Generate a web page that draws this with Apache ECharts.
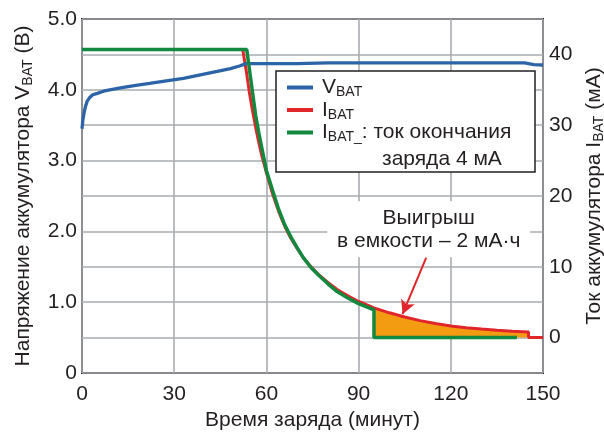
<!DOCTYPE html>
<html><head><meta charset="utf-8">
<script src="https://cdn.jsdelivr.net/npm/echarts@6/dist/echarts.min.js"></script>
<style>html,body{margin:0;padding:0;background:#fff}#c{width:604px;height:432px}</style>
</head><body><div id="c"></div>
<script>
// ---- data ----
const xTickLabels = ['0', '30', '60', '90', '120', '150'];
const leftTickLabels = ['0', '1.0', '2.0', '3.0', '4.0', '5.0'];
const rightTickLabels = ['0', '10', '20', '30', '40'];

// V_BAT (V) vs time (min)
const vTime = [0, 0.3, 0.7, 1.1, 1.7, 2.5, 3.5, 5, 7, 9, 13, 17, 22, 28, 33, 38.5, 44, 48.3, 51.5, 53.3, 60, 70, 80, 144, 147, 150];
const vBat  = [3.45, 3.58, 3.68, 3.76, 3.84, 3.89, 3.93, 3.95, 3.98, 4.00, 4.03, 4.06, 4.09, 4.13, 4.16, 4.21, 4.26, 4.30, 4.34, 4.37, 4.37, 4.37, 4.38, 4.38, 4.355, 4.35];

// I_BAT (mA)
const iTime = [0, 52.3, 53.5, 54.5, 55.5, 56.5, 57.5, 58.5, 60, 62, 64, 66, 68, 70, 72, 74.5, 77, 80, 83, 86.5, 90, 95, 100, 105, 110, 115, 120, 125, 130, 135, 140, 145.3, 145.3, 150];
const iBat  = [40.7, 40.7, 37.5, 34.5, 32, 29.7, 27.6, 25.7, 23.3, 20.3, 17.8, 15.7, 14, 12.6, 11.3, 10, 8.9, 7.8, 6.8, 5.9, 5.1, 4.2, 3.5, 2.9, 2.4, 2.0, 1.65, 1.4, 1.2, 1.03, 0.9, 0.78, 0, 0];

// I_BAT with 4 mA termination (mA)
const tTime = [0, 53.6, 54.5, 55.5, 56.5, 57.5, 58.5, 60, 62, 64, 66, 68, 70, 72, 74.5, 77, 80, 83, 86.5, 90, 95, 95, 141.5];
const iTerm = [40.7, 40.7, 37.8, 34.6, 31.4, 29, 26.8, 23.6, 20.8, 18.1, 15.9, 14.2, 12.7, 11.3, 9.9, 8.8, 7.6, 6.5, 5.6, 4.8, 3.9, 0, 0];

// gained capacity region: I_BAT between termination point and end of charge
const gainStart = 95, gainEnd = 145.3;

const seriesNames = ['V_BAT', 'I_BAT', 'I_BAT_'];
const annotText = ['Выигрыш', 'в емкости – 2 мА·ч'];
const legendNote = 'заряда 4 мА';

// ---- build ----
const pair = (xs, ys) => xs.map((x, i) => [x, ys[i]]);
const gainData = pair(iTime, iBat).filter(p => p[0] >= gainStart && p[0] <= gainEnd && !(p[0] === gainEnd && p[1] === 0));

const FONT = '"Liberation Sans", Arial, Helvetica, sans-serif';
const TXT = '#231f20';
const BLUE = '#2c64a8', RED = '#e1262b', GREEN = '#12893e', ORANGE = '#f39c12';
const GRIDC = '#a9acb0';

const richBase = {
  m: { fontSize: 21, fontFamily: FONT, color: TXT, lineHeight: 24 },
  s: { fontSize: 14, fontFamily: FONT, color: TXT, verticalAlign: 'bottom', lineHeight: 15 }
};

const chart = echarts.init(document.getElementById('c'), null, { renderer: 'canvas' });
chart.setOption({
  animation: false,
  backgroundColor: '#fff',
  grid: { left: 82, right: 61, top: 19, bottom: 59, outerBoundsMode: 'none', containLabel: false,
    show: true, borderColor: TXT, borderWidth: 2, backgroundColor: 'transparent' },
  xAxis: {
    type: 'value', min: 0, max: 150, interval: 30,
    name: 'Время заряда (минут)', nameLocation: 'middle', nameGap: 30,
    nameTextStyle: { fontSize: 21, fontFamily: FONT, color: TXT },
    axisLine: { show: false }, axisTick: { show: false },
    axisLabel: { fontSize: 21, fontFamily: FONT, color: TXT, margin: 11, showMinLabel: true, showMaxLabel: true,
      formatter: v => xTickLabels[Math.round(v / 30)] },
    splitLine: { show: true, lineStyle: { color: GRIDC, width: 1.6 } }
  },
  yAxis: [{
    type: 'value', min: 0, max: 5, interval: 0.5, position: 'left',
    name: '{m|Напряжение аккумулятора V}{s|BAT}{m| (В)}', nameLocation: 'middle', nameGap: 47, nameRotate: 90,
    nameTextStyle: { rich: richBase },
    axisLine: { show: false }, axisTick: { show: false },
    axisLabel: { fontSize: 21, fontFamily: FONT, color: TXT, margin: 5, showMinLabel: true, showMaxLabel: true,
      formatter: v => (Math.abs(v - Math.round(v)) < 1e-6 ? leftTickLabels[Math.round(v)] : '') },
    splitLine: { show: true, lineStyle: { color: GRIDC, width: 1.6 } }
  }, {
    type: 'value', min: -5, max: 45, interval: 5, position: 'right',
    name: '{m|Ток аккумулятора I}{s|BAT}{m| (мА)}', nameLocation: 'middle', nameGap: 37, nameRotate: 90,
    nameTextStyle: { rich: richBase },
    axisLine: { show: false }, axisTick: { show: false },
    axisLabel: { fontSize: 21, fontFamily: FONT, color: TXT, margin: 6,
      formatter: v => (v >= 0 && v % 10 === 0 ? rightTickLabels[v / 10] : '') },
    splitLine: { show: false }
  }],
  legend: {
    data: seriesNames, orient: 'vertical', left: 287, top: 77, padding: 0, itemGap: 0,
    icon: 'rect', itemWidth: 26, itemHeight: 4, selectedMode: false, z: 6,
    textStyle: { rich: richBase, padding: [0, 0, 0, 4] },
    formatter: n => n === 'V_BAT' ? '{m|V}{s|BAT}' : n === 'I_BAT' ? '{m|I}{s|BAT}' : '{m|I}{s|BAT_}{m|: ток окончания}'
  },
  graphic: [
    { type: 'rect', z: 5, shape: { x: 276, y: 71, width: 259, height: 101 },
      style: { fill: '#fff', stroke: TXT, lineWidth: 1.5 } },
    { type: 'text', z: 7, x: 382, y: 159,
      style: { text: legendNote, fontSize: 21, fontFamily: FONT, fill: TXT, verticalAlign: 'middle', align: 'left' } }
  ],
  series: [
    {
      name: 'gain', type: 'line', yAxisIndex: 1, z: 2, data: gainData, showSymbol: false, silent: true,
      lineStyle: { color: TXT, width: 1 }, itemStyle: { color: ORANGE },
      areaStyle: { color: ORANGE, opacity: 1, origin: 0 },
      markPoint: {
        silent: true, symbol: 'rect', symbolSize: [203, 56], itemStyle: { color: '#fff' },
        data: [{ coord: [112.8, 15.3] }],
        label: { show: true, position: 'inside', formatter: annotText.join('\n'), fontSize: 21, fontFamily: FONT, color: TXT, lineHeight: 23 }
      },
      markLine: {
        silent: true, symbol: ['none', 'arrow'], symbolSize: [11, 14],
        lineStyle: { color: RED, width: 2, type: 'solid' }, label: { show: false },
        data: [[{ coord: [112, 11.3] }, { coord: [104.3, 3.3] }]]
      }
    },
    {
      name: 'I_BAT', type: 'line', yAxisIndex: 1, z: 3, data: pair(iTime, iBat), showSymbol: false,
      lineStyle: { color: RED, width: 3 }, itemStyle: { color: RED }
    },
    {
      name: 'V_BAT', type: 'line', yAxisIndex: 0, z: 4, data: pair(vTime, vBat), showSymbol: false,
      lineStyle: { color: BLUE, width: 3.3 }, itemStyle: { color: BLUE }
    },
    {
      name: 'I_BAT_', type: 'line', yAxisIndex: 1, z: 5, data: pair(tTime, iTerm), showSymbol: false,
      lineStyle: { color: GREEN, width: 3.5 }, itemStyle: { color: GREEN }
    }
  ]
});
</script></body></html>
